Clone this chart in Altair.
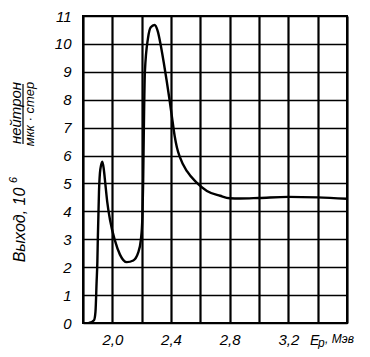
import altair as alt
import pandas as pd

# curve: proton energy (MeV) vs neutron yield (10^6 n / µC·sr)
energy = [1.84, 1.875, 1.885, 1.893, 1.898, 1.901, 1.909, 1.918, 1.932, 1.942, 1.952,
          1.965, 1.984, 2.018, 2.052, 2.098, 2.143, 2.175, 2.195, 2.205, 2.21, 2.215,
          2.222, 2.243, 2.262, 2.288, 2.31, 2.33, 2.35, 2.37, 2.39, 2.41,
          2.425, 2.44, 2.46, 2.51, 2.575, 2.645, 2.735, 2.8, 2.87, 3.0, 3.2, 3.4, 3.6]
yield_ = [0.0, 0.1, 0.4, 1.5, 2.2, 3.0, 4.7, 5.5, 5.78, 5.5, 5.0,
          4.35, 3.7, 2.95, 2.45, 2.18, 2.24, 2.5, 3.0, 3.8, 5.0, 7.0,
          9.0, 10.2, 10.6, 10.68, 10.45, 9.95, 9.35, 8.7, 8.0, 7.25,
          6.7, 6.3, 5.95, 5.43, 5.03, 4.73, 4.56, 4.47, 4.46, 4.48, 4.52, 4.5, 4.45]

x_grid = [1.8, 2.0, 2.2, 2.4, 2.6, 2.8, 3.0, 3.2, 3.4, 3.6]
x_labels = ['2.0', '2.4', '2.8', '3.2']
y_ticks = list(range(0, 12))

FONT = "Liberation Sans"

df = pd.DataFrame({"e": energy, "y": yield_})
one = pd.DataFrame({"k": [0]})

cond = " || ".join("format(datum.value, '.1f') == '%s'" % s for s in x_labels)
label_expr = "(" + cond + ") ? replace(format(datum.value, '.1f'), '.', ',') : ''"

curve = alt.Chart(df).mark_line(
    color="black", strokeWidth=2.4, interpolate="monotone", clip=True
).encode(
    x=alt.X("e:Q", scale=alt.Scale(domain=[1.8, 3.6], nice=False, zero=False),
            axis=alt.Axis(values=x_grid, labelExpr=label_expr, title=None,
                          tickSize=0, labelPadding=9, labelFontSize=15,
                          labelFontStyle="italic", labelFont=FONT,
                          labelColor="black", labelFlush=False, domain=False,
                          grid=True, gridColor="black", gridWidth=2.2,
                          gridOpacity=1)),
    y=alt.Y("y:Q", scale=alt.Scale(domain=[0, 11], nice=False),
            axis=alt.Axis(values=y_ticks, title=None, tickSize=0,
                          labelPadding=12, labelFontSize=15,
                          labelFontStyle="italic", labelFont=FONT,
                          labelColor="black", labelFlush=False, domain=False,
                          grid=True, gridColor="black", gridWidth=1.5,
                          gridOpacity=1)),
)


def txt(s, x, y, size, angle=0, align="left", baseline="middle"):
    return alt.Chart(one).mark_text(
        text=s, font=FONT, fontStyle="italic", fontSize=size, color="black",
        angle=angle, align=align, baseline=baseline
    ).encode(x=alt.value(x), y=alt.value(y))


ytitle_main = txt("Выход, 10", -63, 209, 16, angle=270, align="center")
ytitle_sup = txt("6", -69, 164, 11, angle=270, align="center")
ytitle_num = txt("нейтрон", -67, 97, 15, angle=270, align="center")
ytitle_den = txt("мкк · стер", -53, 98, 13, angle=270, align="center")
frac_line = alt.Chart(one).mark_rule(color="black", strokeWidth=1.2).encode(
    x=alt.value(-60), y=alt.value(68), y2=alt.value(128)
)

xt_E = txt("E", 227, 325, 14)
xt_p = txt("p", 235, 327, 12)
xt_unit = txt(", Мэв", 242, 323, 12)

chart = alt.layer(
    curve, ytitle_main, ytitle_sup, ytitle_num, ytitle_den, frac_line,
    xt_E, xt_p, xt_unit
).properties(
    width=264, height=307,
    autosize=alt.AutoSizeParams(type="none"),
    padding={"left": 75, "top": 8, "right": 15, "bottom": 26},
    background="white",
).configure_view(stroke="black", strokeWidth=2)

chart.save("out.html", embed_options={"renderer": "svg", "actions": False})
